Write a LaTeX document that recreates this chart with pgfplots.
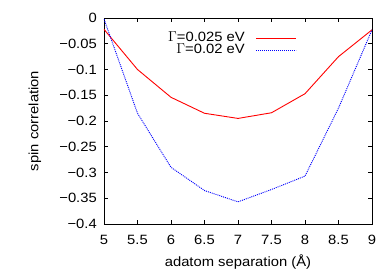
\documentclass[border=0pt]{standalone}
\usepackage{fontspec}
\setmainfont{Liberation Sans}[FakeStretch=1.1]
\usepackage{pgfplots}
\pgfplotsset{compat=1.18}
\begin{document}
\fontsize{13.5}{15}\selectfont
\begin{tikzpicture}[font=\fontsize{13.5}{15}\selectfont]
\useasboundingbox (-104bp,-49bp) rectangle (285bp,224bp);
\begin{axis}[
  scale only axis,
  width=268bp, height=206bp,
  xmin=5, xmax=9, ymin=-0.4, ymax=0,
  axis line style={line width=0.8bp},
  tick align=inside,
  major tick length=4bp,
  tick style={black, line width=0.6bp},
  every tick label/.append style={font=\fontsize{13.5}{15}\selectfont},
  xtick={5,5.5,6,6.5,7,7.5,8,8.5,9},
  xticklabels={5,5.5,6,6.5,7,7.5,8,8.5,9},
  ytick={-0.4,-0.35,-0.3,-0.25,-0.2,-0.15,-0.1,-0.05,0},
  yticklabels={−0.4,−0.35,−0.3,−0.25,−0.2,−0.15,−0.1,−0.05,0},
  xticklabel style={inner sep=0pt, anchor=north},
  yticklabel style={inner sep=0pt, anchor=east},
  xticklabel shift=11bp,
  yticklabel shift=7bp,
  xlabel={adatom separation (Å)},
  ylabel={spin correlation},
  label style={font=\fontsize{13.5}{15}\selectfont},
  xlabel style={at={(axis description cs:0.5,-0.1845)}, anchor=center, inner sep=0pt},
  ylabel style={at={(axis description cs:-0.2575,0.5)}, anchor=center, inner sep=0pt},
  legend plot pos=right,
  legend cell align=right,
  legend image code/.code={\draw[#1] (0bp,0bp) -- (40bp,0bp);},
  legend style={draw=none, fill=none, inner sep=0pt,
    font=\fontsize{13.5}{15}\selectfont,
    at={(axis description cs:0.720,0.932)}, anchor=north east,
    nodes={inner sep=0pt, text height=9bp, text depth=2.5bp},
    /tikz/column sep=11bp, /tikz/row sep=0.5bp},
]
\addplot[red, line width=0.9bp] coordinates {
(5,-0.022) (5.5,-0.1) (6,-0.154) (6.5,-0.185) (7,-0.195) (7.5,-0.184) (8,-0.147) (8.5,-0.075) (9,-0.023)};
\addlegendentry{$\Gamma$=0.025 eV}
\addplot[blue, line width=0.9bp, dash pattern=on 1bp off 1bp] coordinates {
(5,-0.002) (5.5,-0.185) (6,-0.29) (6.5,-0.335) (7,-0.357) (7.5,-0.333) (8,-0.307) (8.5,-0.175) (9,-0.023)};
\addlegendentry{$\Gamma$=0.02 eV}
\end{axis}
\end{tikzpicture}
\end{document}
